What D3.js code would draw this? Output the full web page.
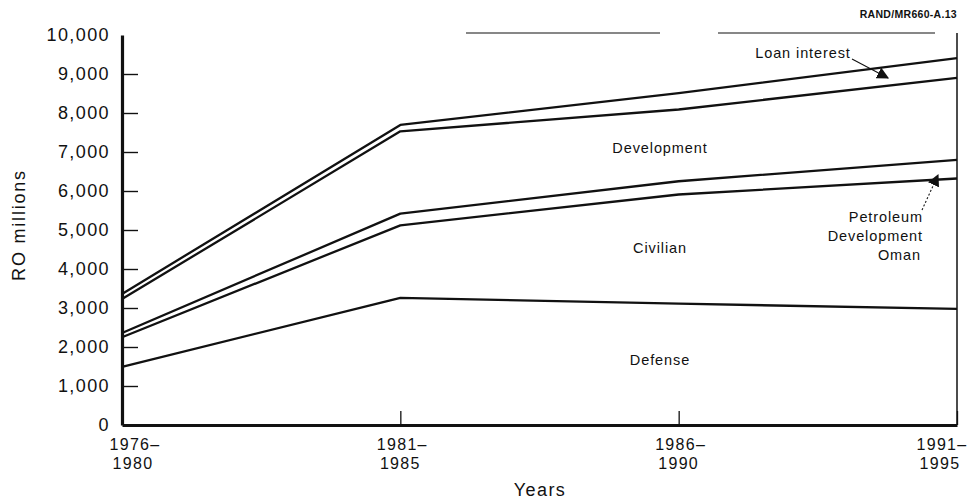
<!DOCTYPE html>
<html><head><meta charset="utf-8">
<script src="https://cdn.jsdelivr.net/npm/d3@7"></script>
<style>
body{margin:0;background:#fff}
svg{display:block}
text{font-family:"Liberation Sans",Arial,Helvetica,sans-serif;fill:#111}
</style>
</head><body>
<script>
// ---- data ----
const periods = ["1976–1980", "1981–1985", "1986–1990", "1991–1995"];
const periodLabelLines = [["1976–", "1980"], ["1981–", "1985"], ["1986–", "1990"], ["1991–", "1995"]];
const seriesKeys = ["Defense", "Civilian", "Petroleum Development Oman", "Development", "Loan interest"];
const defense      = [1490, 3260, 3110, 2980];
const civilian     = [760, 1860, 2800, 3340];
const pdo          = [110, 300, 340, 480];
const development  = [870, 2110, 1840, 2100];
const loanInterest = [130, 165, 420, 505];
const yTickValues  = [0, 1000, 2000, 3000, 4000, 5000, 6000, 7000, 8000, 9000, 10000];
const yAxisTitle = "RO millions";
const xAxisTitle = "Years";
const sourceNote = "RAND/MR660-A.13";

const rows = periods.map((p, i) => ({
  period: p,
  "Defense": defense[i],
  "Civilian": civilian[i],
  "Petroleum Development Oman": pdo[i],
  "Development": development[i],
  "Loan interest": loanInterest[i]
}));

// ---- layout ----
const W = 969, H = 504;
const svg = d3.select("body").append("svg").attr("width", W).attr("height", H);

const x = d3.scalePoint().domain(periods).range([122, 957]);
const y = d3.scaleLinear().domain([0, 10000]).range([425, 35]);

const stacked = d3.stack().keys(seriesKeys)(rows);

// defs: arrowhead
svg.append("defs").append("marker")
  .attr("id", "arr").attr("viewBox", "0 0 10 10")
  .attr("refX", 9).attr("refY", 5)
  .attr("markerWidth", 12).attr("markerHeight", 12)
  .attr("markerUnits", "userSpaceOnUse")
  .attr("orient", "auto")
  .append("path").attr("d", "M0,0 L10,5 L0,10 Z").attr("fill", "#111");

// partial top frame and right frame
svg.append("line").attr("x1", 466).attr("x2", 660).attr("y1", 33).attr("y2", 33)
  .attr("stroke", "#111").attr("stroke-width", 1.2);
svg.append("line").attr("x1", 718).attr("x2", 935).attr("y1", 33).attr("y2", 33)
  .attr("stroke", "#111").attr("stroke-width", 1.2);
svg.append("line").attr("x1", x(periods[3])).attr("x2", x(periods[3]))
  .attr("y1", 33).attr("y2", y(0))
  .attr("stroke", "#111").attr("stroke-width", 1.5);

// stacked boundary lines
const line = d3.line().x(d => x(d.data.period)).y(d => y(d[1]));
svg.append("g").selectAll("path").data(stacked).join("path")
  .attr("d", d => line(d))
  .attr("fill", "none").attr("stroke", "#111").attr("stroke-width", 2.3)
  .attr("stroke-linejoin", "round");

// y axis
const yAxis = d3.axisLeft(y).tickValues(yTickValues)
  .tickFormat(d3.format(",")).tickSizeInner(-16).tickSizeOuter(0).tickPadding(12);
const gy = svg.append("g").attr("transform", `translate(${x(periods[0])},0)`).call(yAxis);
gy.select(".domain").attr("stroke", "#111").attr("stroke-width", 3.2);
gy.selectAll(".tick line").attr("stroke", "#111").attr("stroke-width", 1.4);
gy.selectAll(".tick").filter(d => d === 0 || d === 10000).select("line").remove();
gy.selectAll(".tick text").attr("font-size", 18).attr("letter-spacing", 1.4)
  .attr("fill", "#111").attr("font-family", "Liberation Sans, Arial, sans-serif");

// x axis
const xAxis = d3.axisBottom(x).tickSizeInner(-14).tickSizeOuter(0).tickFormat("");
const gx = svg.append("g").attr("transform", `translate(0,${y(0)})`).call(xAxis);
gx.select(".domain").attr("stroke", "#111").attr("stroke-width", 3.2);
gx.selectAll(".tick line").attr("stroke", "#111").attr("stroke-width", 1.3);
gx.selectAll(".tick text").remove();
const labelShift = [11, 0, 0, -17];
const xl = svg.append("g");
periods.forEach((p, i) => {
  const t = xl.append("text").attr("text-anchor", "middle")
    .attr("font-size", 16).attr("letter-spacing", 1.3);
  periodLabelLines[i].forEach((s, j) => {
    t.append("tspan").attr("x", x(p) + labelShift[i] + (j === 0 ? 2 : 0))
      .attr("y", 450 + j * 19).text(s);
  });
});

// axis titles
svg.append("text").attr("x", 540).attr("y", 496).attr("text-anchor", "middle")
  .attr("font-size", 18).attr("letter-spacing", 1.4).text(xAxisTitle);
svg.append("text").attr("transform", "translate(25,225) rotate(-90)")
  .attr("text-anchor", "middle").attr("font-size", 18).attr("letter-spacing", 1.8)
  .text(yAxisTitle);

// source note
svg.append("text").attr("x", 957).attr("y", 18).attr("text-anchor", "end")
  .attr("font-size", 10.5).attr("font-weight", "bold").attr("letter-spacing", 0.3)
  .text(sourceNote);

// series labels
const lab = (txt, xx, yy, anchor) => svg.append("text").attr("x", xx).attr("y", yy)
  .attr("text-anchor", anchor || "middle").attr("font-size", 14.5).attr("letter-spacing", 0.9).text(txt);
lab("Loan interest", 803, 58);
lab("Development", 660, 153);
lab("Civilian", 660, 253);
lab("Defense", 660, 365);
lab("Petroleum", 923, 222, "end");
lab("Development", 923, 241, "end");
lab("Oman", 921, 260, "end");

// arrows
svg.append("line").attr("x1", 852).attr("y1", 59).attr("x2", 888).attr("y2", 78)
  .attr("stroke", "#111").attr("stroke-width", 1.1).attr("marker-end", "url(#arr)");
svg.append("line").attr("x1", 922).attr("y1", 210).attr("x2", 938).attr("y2", 175)
  .attr("stroke", "#111").attr("stroke-width", 1.1).attr("stroke-dasharray", "2,2")
  .attr("marker-end", "url(#arr)");
</script>
</body></html>
